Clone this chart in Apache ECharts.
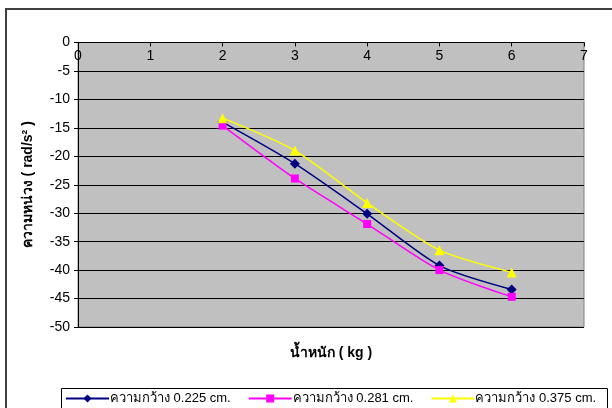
<!DOCTYPE html>
<html>
<head>
<meta charset="utf-8">
<script src="https://cdn.jsdelivr.net/npm/echarts@6/dist/echarts.min.js"></script>
<style>
  html, body { margin: 0; padding: 0; background: #fff; }
  #chart { width: 612px; height: 408px; }
</style>
</head>
<body>
<div id="chart"></div>
<script>
// Weight (kg) on the x axis
const weights = [2, 3, 4, 5, 6];

// Damping values (rad/s²) for each strip width
const width0225 = [-14.0, -21.3, -30.1, -39.2, -43.4];
const width0281 = [-14.6, -23.9, -31.9, -40.0, -44.7];
const width0375 = [-13.3, -19.0, -28.2, -36.5, -40.4];

const seriesNames = ['ความกว้าง 0.225 cm.', 'ความกว้าง 0.281 cm.', 'ความกว้าง 0.375 cm.'];
const xTitle = 'น้ำหนัก ( kg )';
const yTitle = 'ความหน่วง ( rad/s² )';

const FONT = 'Liberation Sans, Arial, sans-serif';

const pairs = ys => weights.map((x, i) => [x, ys[i]]);

const chart = echarts.init(document.getElementById('chart'), null, { renderer: 'canvas' });

function lineSeries(name, ys, color, symbol, size) {
  return {
    name: name,
    type: 'line',
    data: pairs(ys),
    smooth: 0.25,
    symbol: symbol,
    symbolSize: size,
    lineStyle: { color: color, width: 1.5 },
    itemStyle: { color: color },
    emphasis: { disabled: true },
    z: 3
  };
}

chart.setOption({
  animation: false,
  backgroundColor: '#fff',
  title: {
    text: xTitle,
    left: 331, top: 346, textAlign: 'center',
    padding: 0,
    textStyle: { fontFamily: FONT, fontSize: 14, fontWeight: 'bold', color: '#000' }
  },
  grid: {
    left: 78, top: 42.5, right: 28, bottom: 81,
    outerBoundsMode: 'none',
    containLabel: false,
    show: true, backgroundColor: '#C0C0C0', borderColor: '#808080', borderWidth: 1
  },
  xAxis: {
    type: 'value',
    position: 'top',
    min: 0, max: 7, interval: 1,
    axisLine: { show: true, onZero: false, lineStyle: { color: '#000', width: 1 } },
    axisTick: { show: true, inside: true, length: 4, lineStyle: { color: '#000' } },
    axisLabel: { inside: true, margin: 7, fontFamily: FONT, fontSize: 14, color: '#000' },
    splitLine: { show: false }
  },
  yAxis: {
    type: 'value',
    min: -50, max: 0, interval: 5,
    name: yTitle,
    nameLocation: 'middle',
    nameGap: 43,
    nameRotate: 90,
    nameTextStyle: { fontFamily: FONT, fontSize: 14, fontWeight: 'bold', color: '#000' },
    axisLine: { show: true, lineStyle: { color: '#000', width: 1 } },
    axisTick: { show: true, inside: false, length: 4, lineStyle: { color: '#000' } },
    axisLabel: { margin: 8, fontFamily: FONT, fontSize: 14, color: '#000' },
    splitLine: { show: true, lineStyle: { color: '#000', width: 1 } }
  },
  legend: {
    left: 65, top: 392,
    itemWidth: 43, itemHeight: 10, itemGap: 17,
    padding: 0,
    textStyle: { fontFamily: FONT, fontSize: 13, color: '#000', padding: [0, 0, 0, -4] },
    data: seriesNames
  },
  graphic: [
    {
      type: 'rect', silent: true, z: -1,
      shape: { x: 6, y: 9, width: 640, height: 440 },
      style: { fill: null, stroke: '#404040', lineWidth: 2 }
    },
    {
      type: 'rect', silent: true, z: -1,
      shape: { x: 61.5, y: 388.5, width: 546, height: 30 },
      style: { fill: '#fff', stroke: '#000', lineWidth: 1 }
    }
  ],
  series: [
    lineSeries(seriesNames[0], width0225, '#000080', 'diamond', 10),
    lineSeries(seriesNames[1], width0281, '#FF00FF', 'rect', 8),
    lineSeries(seriesNames[2], width0375, '#FFFF00', 'triangle', 10)
  ]
});
</script>
</body>
</html>
